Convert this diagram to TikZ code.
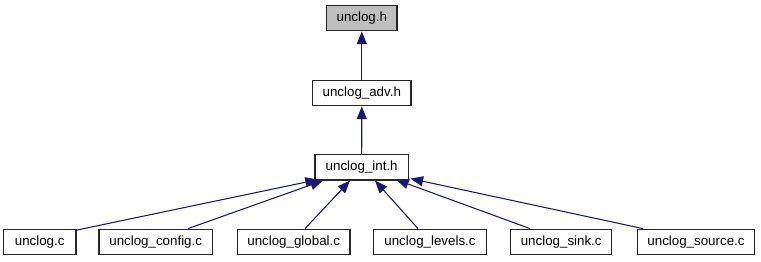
\documentclass[tikz,border=0pt]{standalone}
\usepackage{fontspec}
\setmainfont{Liberation Sans}
\usetikzlibrary{arrows.meta,calc}
\definecolor{edgeblue}{HTML}{191970}
\definecolor{hilite}{HTML}{BFBFBF}
\begin{document}
\begin{tikzpicture}[x=0.75pt,y=-0.75pt,
  filebox/.style={draw=black!85, line width=0.9pt, fill=white, inner sep=0pt,
    minimum height=19.2pt, font=\fontsize{10}{12}\selectfont},
  curfile/.style={filebox, fill=hilite},
  dep/.style={draw=edgeblue, line width=0.8pt,
    -{Triangle[length=9.5pt,width=7.5pt]}, edgeblue}]
  \useasboundingbox[fill=white] (0,0) rectangle (761,261);

  % header chain
  \node[curfile, minimum width=52.7pt] (h)   at (361.8,18)  {unclog.h};
  \node[filebox, minimum width=73.7pt] (adv) at (361.8,93)  {unclog\_adv.h};
  \node[filebox, minimum width=70pt]   (int) at (361.7,167.2) {unclog\_int.h};

  % source files
  \node[filebox, minimum width=54.5pt] (c)    at (39.7,242)  {unclog.c};
  \node[filebox, minimum width=85pt]   (cfg)  at (155.7,242) {unclog\_config.c};
  \node[filebox, minimum width=84.5pt] (glob) at (293.7,242) {unclog\_global.c};
  \node[filebox, minimum width=85pt]   (lvl)  at (430,242)   {unclog\_levels.c};
  \node[filebox, minimum width=75.8pt] (sink) at (561.2,242) {unclog\_sink.c};
  \node[filebox, minimum width=88pt]   (src)  at (696,242)   {unclog\_source.c};

  % include edges
  \draw[dep] (adv.north) -- (h.south);
  \draw[dep] (int.north) -- (adv.south);
  \draw[dep] ($(c.north east)+(0,1.5)$)  -- ($(int.south)+(-43.7,-1)$);
  \draw[dep] ($(cfg.north)+(32.3,0)$)    -- ($(int.south)+(-38.7,0)$);
  \draw[dep] ($(glob.north)+(11.3,0)$)   -- ($(int.south)+(-11.7,0)$);
  \draw[dep] ($(lvl.north)+(-12,0)$)     -- ($(int.south)+(13.3,0)$);
  \draw[dep] ($(sink.north)+(-31.2,0)$)  -- ($(int.south)+(34.3,-1)$);
  \draw[dep] ($(src.north)+(-53,0)$)     -- ($(int.south east)+(1.5,-2)$);
\end{tikzpicture}
\end{document}
